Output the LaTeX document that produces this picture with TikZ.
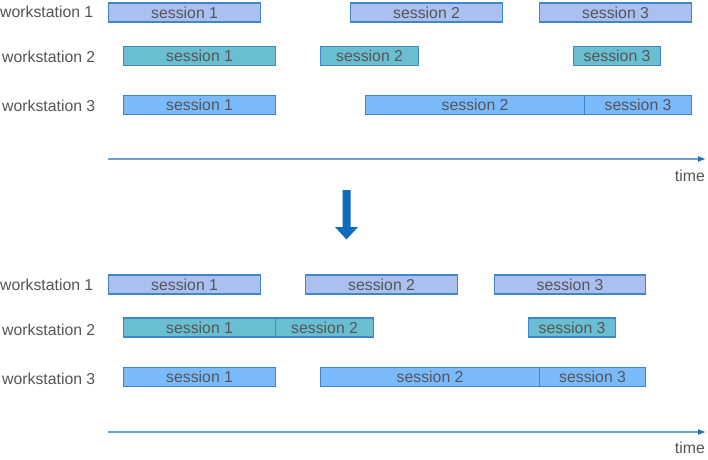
\documentclass[tikz,border=0pt]{standalone}
\usepackage{fontspec}
\setmainfont{Liberation Sans}
\usetikzlibrary{arrows.meta}
\definecolor{fillA}{RGB}{172,192,240}
\definecolor{fillB}{RGB}{106,190,210}
\definecolor{fillC}{RGB}{122,186,250}
\definecolor{edge}{RGB}{60,135,205}
\definecolor{txt}{RGB}{85,85,85}
\definecolor{axisc}{RGB}{110,160,205}
\definecolor{tipc}{RGB}{25,110,190}
\definecolor{bigarrow}{RGB}{14,107,190}
\tikzset{
  sbox/.style={draw=edge, line width=1.2pt, inner sep=0pt, minimum height=19pt,
    text=txt, font=\fontsize{15.8pt}{17pt}\selectfont, anchor=west},
  wsA/.style={sbox, fill=fillA},
  wsB/.style={sbox, fill=fillB},
  wsC/.style={sbox, fill=fillC},
  wlabel/.style={text=txt, font=\fontsize{15.8pt}{17pt}\selectfont, inner sep=0pt, anchor=west},
  timeaxis/.style={draw=axisc, line width=1.3pt, -{Latex[length=8pt,width=6pt,color=tipc]}},
  tlabel/.style={text=txt, font=\fontsize{15.8pt}{17pt}\selectfont, inner sep=0pt, anchor=east}
}
\begin{document}
\begin{tikzpicture}[x=1pt,y=-1pt]
\useasboundingbox (0,0) rectangle (708,459);
% ---------- top ----------
\node[wlabel] (l1) at (0,12) {workstation 1};
\node[wlabel] (l2) at (2,57) {workstation 2};
\node[wlabel] (l3) at (2,106) {workstation 3};

\node[wsA, minimum width=152pt] (a1) at (108,12.5) {session 1};
\node[wsA, minimum width=152pt] (a2) at (350,12.5) {session 2};
\node[wsA, minimum width=152pt] (a3) at (539,12.5) {session 3};

\node[wsB, minimum width=152pt] (b1) at (123,56) {session 1};
\node[wsB, minimum width=98pt] (b2) at (320,56) {session 2};
\node[wsB, minimum width=87pt] (b3) at (573,56) {session 3};

\node[wsC, minimum width=152pt] (c1) at (123,105) {session 1};
\node[wsC, minimum width=219pt] (c2) at (365,105) {session 2};
\node[wsC, minimum width=107pt] (c3) at (584,105) {session 3};

\coordinate (t0) at (108,159);
\coordinate (t1) at (706,159);
\draw[timeaxis] (t0) -- (t1);
\node[tlabel] (tl1) at (705,176) {time};

% ---------- big arrow ----------
\fill[bigarrow] (342.5,190) -- (350.5,190) -- (350.5,227) -- (358,227) -- (346.5,239.5) -- (335,227) -- (342.5,227) -- cycle;

% ---------- bottom ----------
\node[wlabel] (m1) at (0,285) {workstation 1};
\node[wlabel] (m2) at (2,330) {workstation 2};
\node[wlabel] (m3) at (2,379) {workstation 3};

\node[wsA, minimum width=152pt] (d1) at (108,284.5) {session 1};
\node[wsA, minimum width=152pt] (d2) at (305,284.5) {session 2};
\node[wsA, minimum width=151pt] (d3) at (494,284.5) {session 3};

\node[wsB, minimum width=152pt] (e1) at (123,327.5) {session 1};
\node[wsB, minimum width=98pt] (e2) at (275,327.5) {session 2};
\node[wsB, minimum width=87pt] (e3) at (528,327.5) {session 3};

\node[wsC, minimum width=152pt] (f1) at (123,377) {session 1};
\node[wsC, minimum width=219pt] (f2) at (320,377) {session 2};
\node[wsC, minimum width=106pt] (f3) at (539,377) {session 3};

\coordinate (u0) at (108,432);
\coordinate (u1) at (706,432);
\draw[timeaxis] (u0) -- (u1);
\node[tlabel] (tl2) at (705,448) {time};
\end{tikzpicture}
\end{document}
